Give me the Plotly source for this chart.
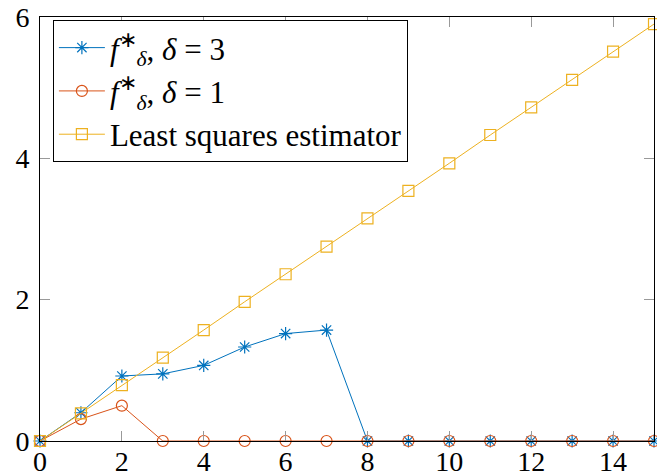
import plotly.graph_objects as go

x = list(range(16))
delta3 = [0, 0.40, 0.92, 0.95, 1.07, 1.33, 1.52, 1.57, 0, 0, 0, 0, 0, 0, 0, 0]
delta1 = [0, 0.31, 0.50, 0, 0, 0, 0, 0, 0, 0, 0, 0, 0, 0, 0, 0]
least_squares = [0, 0.39, 0.79, 1.18, 1.57, 1.97, 2.36, 2.75, 3.15, 3.54,
                 3.93, 4.33, 4.72, 5.11, 5.51, 5.90]

names = ["<i>f</i><sup>∗</sup><sub><i>δ</i></sub>, <i>δ</i> = 3",
         "<i>f</i><sup>∗</sup><sub><i>δ</i></sub>, <i>δ</i> = 1",
         "Least squares estimator"]
colors = ["#0072BD", "#D95319", "#EDB120"]  # MATLAB-ish defaults
symbols = ["asterisk-open", "circle-open", "square-open"]

fig = go.Figure()
for ys, name, c, s in zip([delta3, delta1, least_squares], names, colors, symbols):
    fig.add_trace(go.Scatter(
        x=x, y=ys, name=name, mode="lines+markers",
        line=dict(color=c, width=1),
        marker=dict(symbol=s, size=11, color=c, line=dict(color=c, width=1.2)),
        cliponaxis=False,
    ))

axis_style = dict(
    showgrid=False, zeroline=False, automargin=False,
    showline=True, linecolor="black", linewidth=1, mirror="allticks",
    ticks="inside", ticklen=10, tickcolor="#999999", tickwidth=1,
    ticklabeloverflow="allow",
    tickfont=dict(family="Liberation Serif", size=28, color="black"),
)

fig.update_layout(
    width=657, height=474,
    margin=dict(l=40, r=3, t=17, b=33),
    paper_bgcolor="white", plot_bgcolor="white",
    font=dict(family="Liberation Serif", color="black"),
    xaxis=dict(range=[0, 15], tickvals=[0, 2, 4, 6, 8, 10, 12, 14],
               ticklabelstandoff=-5, **axis_style),
    yaxis=dict(range=[0, 6], tickvals=[0, 2, 4, 6],
               ticklabelstandoff=4, **axis_style),
    legend=dict(
        x=0.021, y=0.993, xanchor="left", yanchor="top",
        bordercolor="black", borderwidth=1, bgcolor="white",
        itemwidth=46,
        font=dict(family="Liberation Serif", size=31),
    ),
    showlegend=True,
)

# drop the default 8px body margin so the figure sits at the window corner
fig.write_html("out.html", config={"displayModeBar": False},
               post_script="document.body.style.margin='0';")
